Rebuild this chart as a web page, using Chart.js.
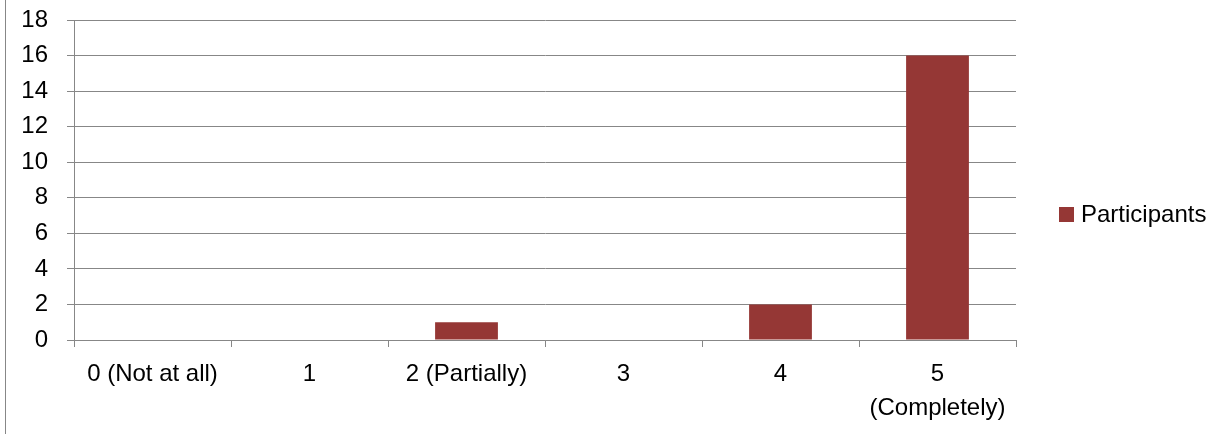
<!DOCTYPE html>
<html>
<head>
<meta charset="utf-8">
<script src="https://cdn.jsdelivr.net/npm/chart.js@4/dist/chart.umd.min.js"></script>
<style>
  html, body { margin: 0; padding: 0; background: #fff; }
  canvas { display: block; }
</style>
</head>
<body>
<canvas id="chart" width="1215" height="434"></canvas>
<script>
// Survey answers on a 0-5 scale and how many participants chose each
const categories = ['0 (Not at all)', '1', '2 (Partially)', '3', '4', ['5', '(Completely)']];
const participants = [0, 0, 1, 0, 2, 16];
const seriesName = 'Participants';
const yMin = 0;
const yMax = 18;
const yStep = 2;

const FONT = 'Liberation Sans, Arial, sans-serif';
const BAR_COLOR = '#953735';
const LINE_COLOR = '#878787';

// Frame line on the left and a right-hand legend drawn next to the plot
const decorations = {
  id: 'decorations',
  afterDraw(chart) {
    const ctx = chart.ctx;
    ctx.save();
    ctx.strokeStyle = LINE_COLOR;
    ctx.lineWidth = 1;
    ctx.beginPath();
    ctx.moveTo(5.5, 0);
    ctx.lineTo(5.5, chart.height);
    ctx.stroke();

    const ds = chart.data.datasets[0];
    const cy = 214.5;
    ctx.fillStyle = ds.backgroundColor;
    ctx.fillRect(1059, cy - 7.5, 15, 15);
    ctx.fillStyle = '#000';
    ctx.font = '24px ' + FONT;
    ctx.textBaseline = 'middle';
    ctx.textAlign = 'left';
    ctx.fillText(ds.label, 1081, cy + 1);
    ctx.restore();
  }
};

new Chart(document.getElementById('chart'), {
  type: 'bar',
  data: {
    labels: categories,
    datasets: [{
      label: seriesName,
      data: participants,
      backgroundColor: BAR_COLOR,
      borderWidth: 0,
      categoryPercentage: 1,
      barPercentage: 0.4
    }]
  },
  options: {
    responsive: false,
    devicePixelRatio: 1,
    animation: false,
    layout: { autoPadding: false, padding: { left: 0, top: 20, right: 199, bottom: 0 } },
    plugins: {
      legend: { display: false },
      tooltip: { enabled: false }
    },
    scales: {
      x: {
        afterFit(scale) {
          scale.height = 94;
          scale.paddingLeft = 0;
          scale.paddingRight = 0;
        },
        grid: {
          offset: true,
          drawOnChartArea: false,
          drawTicks: true,
          tickLength: 7,
          color: LINE_COLOR
        },
        border: { display: true, color: LINE_COLOR, width: 1 },
        ticks: {
          color: '#000',
          padding: 10,
          maxRotation: 0,
          autoSkip: false,
          font: { family: FONT, size: 24, lineHeight: 1.42 }
        }
      },
      y: {
        min: yMin,
        max: yMax,
        afterFit(scale) {
          scale.width = 74;
          scale.paddingTop = 0;
          scale.paddingBottom = 0;
        },
        grid: {
          color: LINE_COLOR,
          drawTicks: true,
          tickLength: 7
        },
        border: { display: true, color: LINE_COLOR, width: 1 },
        ticks: {
          stepSize: yStep,
          color: '#000',
          padding: 19,
          font: { family: FONT, size: 24 }
        }
      }
    }
  },
  plugins: [decorations]
});
</script>
</body>
</html>
